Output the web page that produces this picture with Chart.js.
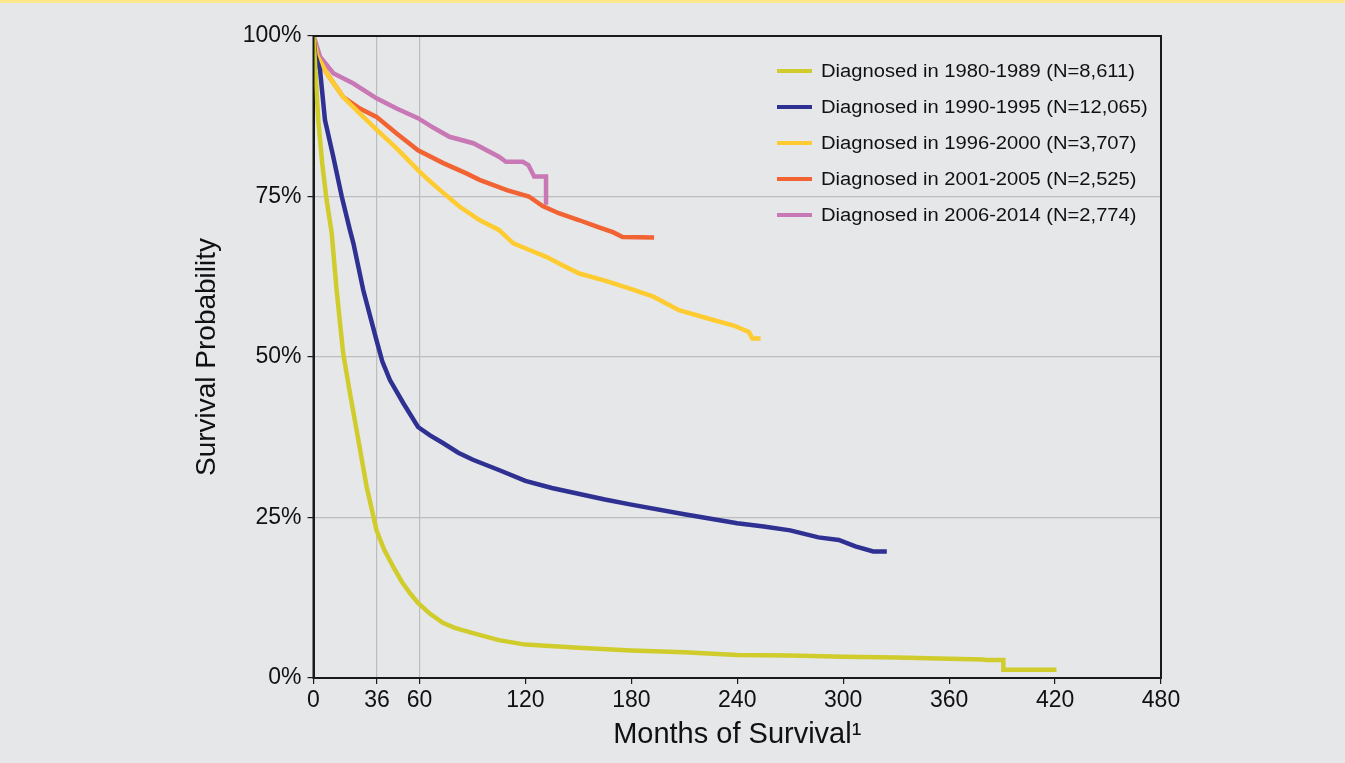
<!DOCTYPE html>
<html>
<head>
<meta charset="utf-8">
<script src="https://cdn.jsdelivr.net/npm/chart.js@4.4.1/dist/chart.umd.min.js"></script>
<style>
  body { margin: 0; background: #e6e7e9; font-family: "Liberation Sans", Arial, sans-serif; }
  #wrap { position: relative; width: 1345px; height: 763px; }
  #band { position: absolute; left: 0; top: 0; width: 1345px; height: 3px; background: #fde98c; }
  #legend { position: absolute; left: 777px; top: 53px; }
  .item { height: 36px; display: flex; align-items: center; font-size: 18px; color: #111; white-space: nowrap; }
  .swatch { width: 35px; height: 4px; margin-right: 9px; }
  .txt { display: inline-block; transform: scaleX(1.12); transform-origin: left center; }
</style>
</head>
<body>
<div id="wrap">
  <canvas id="survivalChart"></canvas>
  <div id="band"></div>
  <div id="legend"></div>
</div>
<script>
// Kaplan-Meier style curves (months, % surviving)
const labels = [
    'Diagnosed in 1980-1989 (N=8,611)',
    'Diagnosed in 1990-1995 (N=12,065)',
    'Diagnosed in 1996-2000 (N=3,707)',
    'Diagnosed in 2001-2005 (N=2,525)',
    'Diagnosed in 2006-2014 (N=2,774)'
];
const colors = ['#cfcc2c', '#2e3192', '#fecb30', '#f26334', '#c878b4'];

const months1980 = [0, 1, 2.7, 5, 7.4, 10.3, 13.1, 16.8, 20.7, 25.4, 30.1, 35.7, 40, 45.2, 50, 54.7, 59.2, 66, 73.3, 80, 90.3, 105, 120, 150, 180, 210, 240, 270, 300, 330, 360, 379.4, 380.5, 390.7, 390.7, 420.8];
const surv1980 = [100, 95, 86.9, 80, 74.5, 69.3, 60.4, 50.6, 44.3, 37.1, 29.8, 23, 20, 17.3, 15, 13.2, 11.7, 10, 8.6, 7.8, 7, 5.9, 5.2, 4.7, 4.3, 4, 3.6, 3.5, 3.3, 3.2, 3, 2.9, 2.8, 2.8, 1.3, 1.3];

const months1990 = [0, 1, 3.7, 6.5, 11.2, 16, 20.6, 22.6, 28.2, 35.7, 39, 43.3, 50.9, 59.2, 66, 73.3, 82, 90.3, 105, 120, 135, 150, 165, 180, 210, 240, 255, 270, 286, 297.5, 306.9, 317, 324.7];
const surv1990 = [100, 97, 94.7, 86.9, 81.2, 75, 69.8, 67.7, 60.4, 52.6, 49.3, 46.4, 42.8, 39.1, 37.8, 36.6, 35.1, 34, 32.4, 30.7, 29.6, 28.7, 27.8, 27, 25.5, 24.1, 23.6, 23, 21.9, 21.5, 20.5, 19.7, 19.7];

const months1996 = [0, 2, 7.5, 16.8, 26.3, 35.7, 47.1, 59.2, 65, 71.7, 82.8, 94.3, 105, 113.2, 122, 131.8, 141, 150.6, 165, 178.8, 192.5, 207, 225.9, 238, 246.6, 248.5, 253.2];
const surv1996 = [100, 97, 94.2, 90.5, 87.9, 85.4, 82.5, 79.1, 77.6, 76, 73.4, 71.3, 69.8, 67.7, 66.7, 65.6, 64.3, 63, 61.9, 60.7, 59.4, 57.3, 55.8, 54.9, 53.9, 52.9, 52.9];

const months2001 = [0, 2, 7.5, 16.8, 26.3, 35.7, 47.1, 59.2, 73.5, 86.6, 94, 109.5, 122, 129.8, 138.9, 150.6, 160.5, 169.9, 175, 192.9];
const surv2001 = [100, 97, 94.2, 90.5, 88.7, 87.4, 84.8, 82.2, 80.2, 78.6, 77.6, 76, 75, 73.5, 72.4, 71.3, 70.3, 69.4, 68.7, 68.6];

const months2006 = [0, 0.8, 3.7, 11.2, 22.6, 35.7, 47.1, 59.2, 68, 77, 90.5, 105, 109, 118.5, 121.7, 125, 131.7, 131.7];
const surv2006 = [100, 99.4, 96.8, 94.2, 92.6, 90.3, 88.7, 87.2, 85.7, 84.3, 83.3, 81.2, 80.4, 80.4, 79.9, 78.1, 78.1, 73.7];

const xTicks = [0, 36, 60, 120, 180, 240, 300, 360, 420, 480];
const xGridAt = [36, 60];

const allMonths = [months1980, months1990, months1996, months2001, months2006];
const allSurv = [surv1980, surv1990, surv1996, surv2001, surv2006];

const datasets = labels.map((label, i) => ({
    label: label,
    data: allMonths[i].map((m, j) => ({ x: m, y: allSurv[i][j] })),
    borderColor: colors[i],
    backgroundColor: colors[i],
    borderWidth: 4.5,
    pointRadius: 0,
    tension: 0
}));

// draw the black frame round the plot area
const framePlugin = {
    id: 'frame',
    afterDatasetsDraw(chart) {
        const a = chart.chartArea;
        const c = chart.ctx;
        c.save();
        c.strokeStyle = '#1a1a1a';
        c.lineWidth = 2;
        c.strokeRect(a.left, a.top, a.right - a.left, a.bottom - a.top);
        c.restore();
    }
};

const font = "'Liberation Sans', Arial, sans-serif";

const chart = new Chart(document.getElementById('survivalChart'), {
    type: 'line',
    data: { datasets: datasets },
    options: {
        responsive: true,
        maintainAspectRatio: false,
        animation: false,
        layout: { padding: { left: 186, right: 184, top: 36, bottom: 7 } },
        plugins: { legend: { display: false }, tooltip: { enabled: false } },
        scales: {
            x: {
                type: 'linear',
                min: 0,
                max: 480,
                afterBuildTicks: scale => { scale.ticks = xTicks.map(v => ({ value: v })); },
                afterFit: scale => { scale.height = 78; },
                ticks: { color: '#111', font: { family: font, size: 23 }, padding: 3, maxRotation: 0, autoSkip: false },
                grid: {
                    color: ctx => xGridAt.includes(ctx.tick && ctx.tick.value) ? '#bdbdbd' : 'rgba(0,0,0,0)',
                    tickColor: '#1a1a1a',
                    tickLength: 6,
                    lineWidth: 1.2
                },
                border: { color: '#1a1a1a', width: 2 },
                title: { display: true, text: 'Months of Survival¹', color: '#111', font: { family: font, size: 29 }, padding: { top: 0, bottom: 4 } }
            },
            y: {
                min: 0,
                max: 100,
                afterFit: scale => { scale.width = 127.5; },
                ticks: { stepSize: 25, color: '#111', font: { family: font, size: 23 }, padding: 6, callback: v => v + '%' },
                grid: {
                    color: ctx => (ctx.tick && ctx.tick.value > 0 && ctx.tick.value < 100) ? '#bdbdbd' : 'rgba(0,0,0,0)',
                    tickColor: '#1a1a1a',
                    tickLength: 6,
                    lineWidth: 1.2
                },
                border: { color: '#1a1a1a', width: 2 },
                title: { display: true, text: 'Survival Probability', color: '#111', font: { family: font, size: 28 }, padding: { top: 4, bottom: 0 } }
            }
        }
    },
    plugins: [framePlugin]
});

// legend built from the datasets
const legendBox = document.getElementById('legend');
chart.data.datasets.forEach(ds => {
    const row = document.createElement('div');
    row.className = 'item';
    const sw = document.createElement('span');
    sw.className = 'swatch';
    sw.style.background = ds.borderColor;
    const txt = document.createElement('span');
    txt.className = 'txt';
    txt.textContent = ds.label;
    row.appendChild(sw);
    row.appendChild(txt);
    legendBox.appendChild(row);
});
</script>
</body>
</html>
